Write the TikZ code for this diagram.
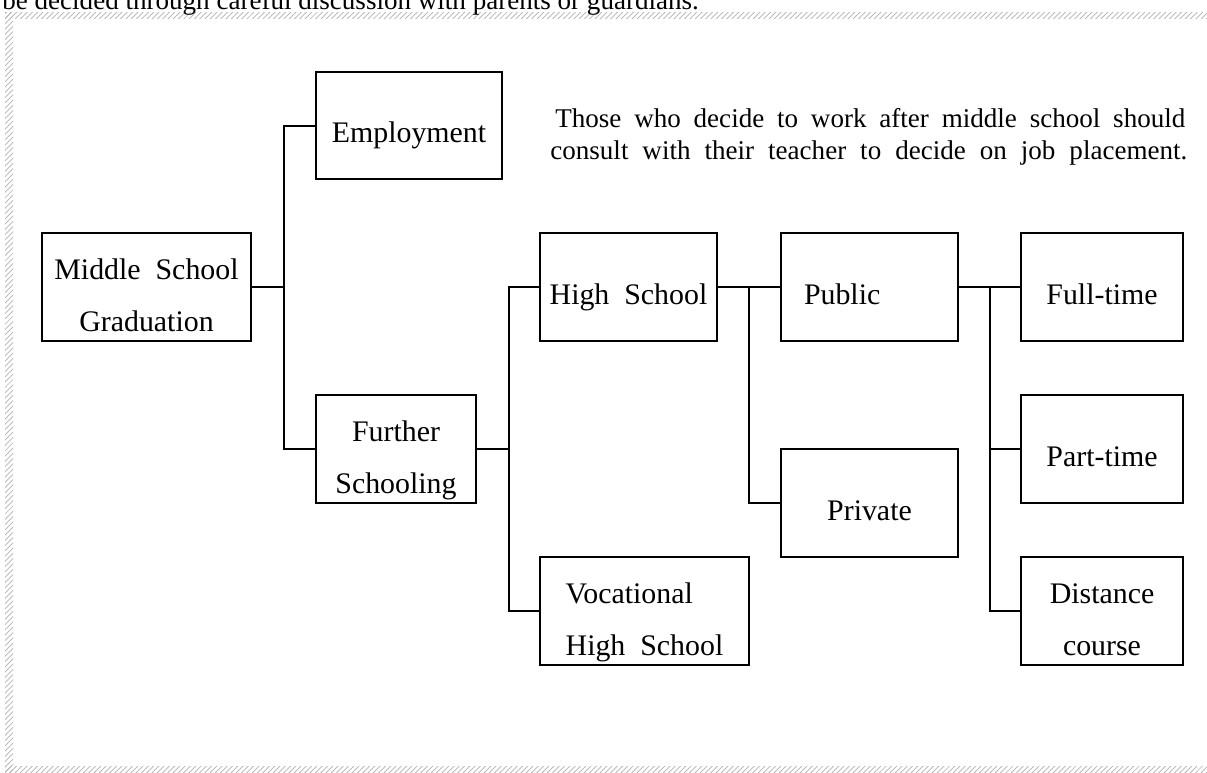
\documentclass[tikz,border=0pt]{standalone}
\usepackage{fontspec}
\setmainfont{Liberation Serif}
\usetikzlibrary{calc, patterns}
\newlength{\px}
\setlength{\px}{0.02cm}
\newcommand{\tallstrut}{\rule{0pt}{43\px}}
\newcommand{\deepstrut}{\rule[-7\px]{0pt}{7\px}}

\begin{document}
\begin{tikzpicture}[x=0.02cm, y=-0.02cm,
  stepbox/.style={draw, line width=2\px, inner sep=0pt, minimum height=108\px,
    font=\fontsize{17}{29.6}\selectfont, text height=40\px, text depth=6\px},
  twoline/.style={draw, line width=2\px, inner sep=0pt, minimum height=108\px,
    font=\fontsize{17}{29.6}\selectfont, align=center},
  link/.style={line width=2\px},
  note/.style={font=\fontsize{15.4}{18}\selectfont, inner sep=0pt, anchor=base west},
  hatch/.style={pattern=north east lines, pattern color=gray!60}]
\clip (0,0) rectangle (1207,772);
\useasboundingbox (0,0) rectangle (1207,772);

% page frame
\fill[hatch] (5,12) rectangle (1207,18);
\fill[hatch] (5,12) rectangle (13,772);
\fill[hatch] (5,766) rectangle (1207,772);
\node[note] (cut) at (2,9) {be decided through careful discussion with parents or guardians.};

% boxes
\node[twoline, minimum width=209\px] (msg) at (146.5,287) {\tallstrut Middle~~School\\Graduation\deepstrut};
\node[stepbox, minimum width=186\px, minimum height=107\px] (emp) at (409,125.5) {Employment};
\node[twoline, minimum width=160\px] (fur) at (396,449) {\tallstrut Further\\Schooling\deepstrut};
\node[stepbox, minimum width=177\px] (hs) at (628.5,287) {High~~School};
\node[twoline, minimum width=209\px, align=left] (voc) at (644.5,611) {\tallstrut Vocational\\High~~School\deepstrut};
\node[stepbox, minimum width=177\px] (pub) at (869.5,287) {\makebox[131\px][l]{Public}};
\node[stepbox, minimum width=177\px] (pri) at (869.5,503) {Private};
\node[stepbox, minimum width=162\px] (ful) at (1102,287) {Full-time};
\node[stepbox, minimum width=162\px] (par) at (1102,449) {Part-time};
\node[twoline, minimum width=162\px] (dis) at (1102,611) {\tallstrut Distance\\course\deepstrut};

% note
\node[note] (note1) at (555,127) {\makebox[630\px][s]{Those who decide to work after middle school should}};
\node[note] (note2) at (550,159) {\makebox[637\px][s]{consult with their teacher to decide on job placement.}};

% branch lines
\coordinate (j1) at ($(msg.east)+(32,0)$);
\draw[link] (msg.east) -- (j1);
\draw[link] (emp.west) -| (j1) |- (fur.west);
\coordinate (j2) at ($(fur.east)+(32,0)$);
\draw[link] (fur.east) -- (j2);
\draw[link] (hs.west) -| (j2) |- (voc.west);
\coordinate (j3) at ($(hs.east)!0.5!(pub.west)$);
\draw[link] (hs.east) -- (pub.west);
\draw[link] (j3) |- (pri.west);
\coordinate (j4) at ($(pub.east)!0.5!(ful.west)$);
\draw[link] (pub.east) -- (ful.west);
\draw[link] (j4) |- (dis.west);
\draw[link] (j4 |- par.west) -- (par.west);
\end{tikzpicture}
\end{document}
